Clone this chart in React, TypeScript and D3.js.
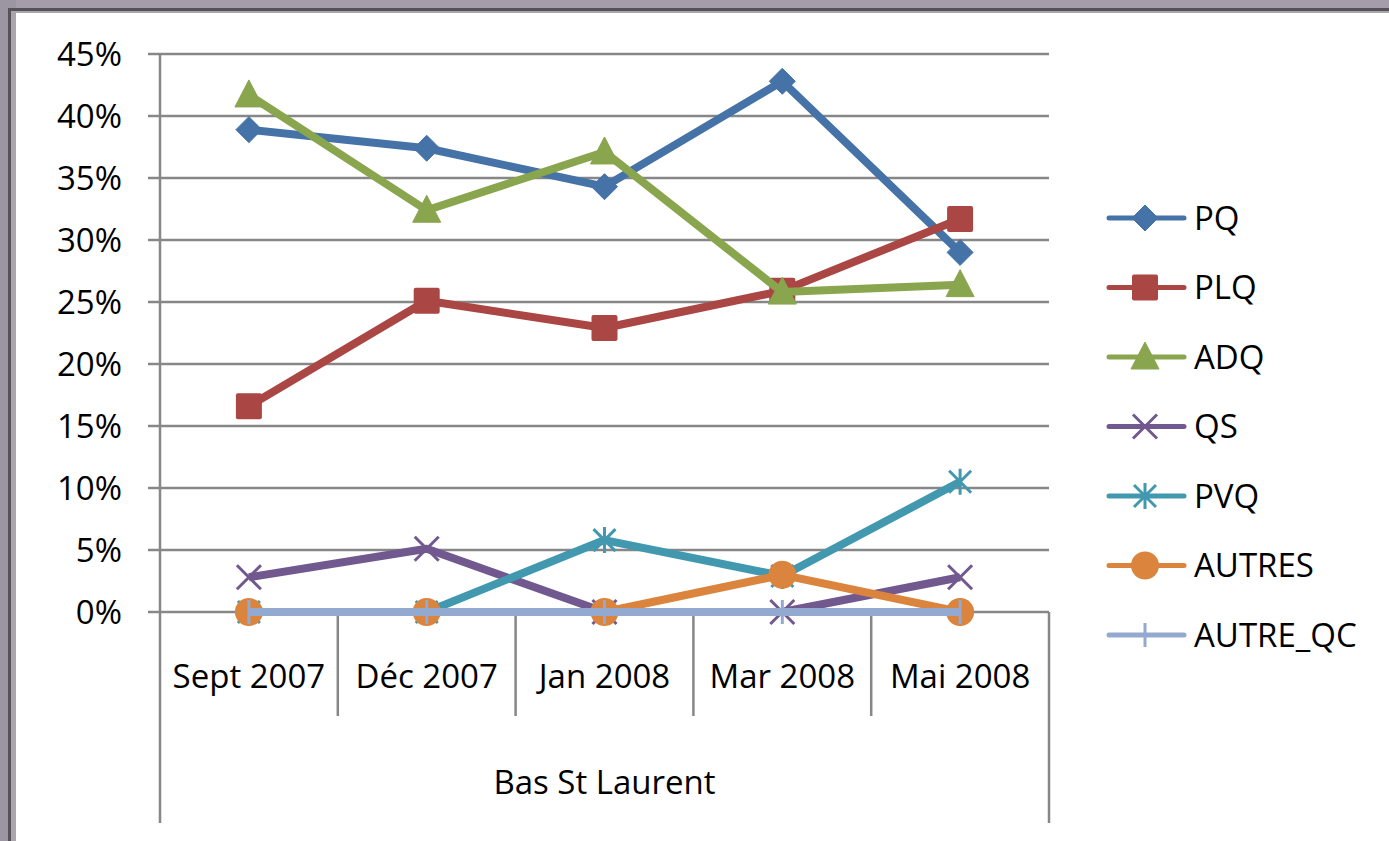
import React, { useEffect, useRef } from "react";
import * as d3 from "d3";

const categories = ["Sept 2007", "Déc 2007", "Jan 2008", "Mar 2008", "Mai 2008"];
const groupLabel = "Bas St Laurent";
const yTicks = [0, 5, 10, 15, 20, 25, 30, 35, 40, 45];

const seriesNames = ["PQ", "PLQ", "ADQ", "QS", "PVQ", "AUTRES", "AUTRE_QC"];
const pq = [38.9, 37.4, 34.3, 42.8, 29.0];
const plq = [16.6, 25.1, 22.9, 25.9, 31.7];
const adq = [41.7, 32.4, 37.1, 25.8, 26.4];
const qs = [2.8, 5.1, 0, 0, 2.8];
const pvq = [0, 0, 5.8, 2.9, 10.5];
const autres = [0, 0, 0, 3.0, 0];
const autreQc = [0, 0, 0, 0, 0];
const colors = ["#4572A7", "#AA4643", "#89A54E", "#71588F", "#4198AF", "#DB843D", "#93A9CF"];
const markers = ["diamond", "square", "triangle", "x", "star", "circle", "plus"];

const W = 1389;
const H = 841;
const FONT = "'Open Sans', sans-serif";
const FS = "33px";

function drawMarker(g: any, type: string, cx: number, cy: number, color: string) {
  if (type === "diamond") {
    g.append("path")
      .attr("d", `M${cx},${cy - 13}L${cx + 13},${cy}L${cx},${cy + 13}L${cx - 13},${cy}Z`)
      .attr("fill", color).attr("stroke", color).attr("stroke-width", 1).attr("stroke-linejoin", "round");
  } else if (type === "square") {
    g.append("rect")
      .attr("x", cx - 13).attr("y", cy - 13).attr("width", 26).attr("height", 26)
      .attr("rx", 2).attr("fill", color);
  } else if (type === "triangle") {
    g.append("path")
      .attr("d", `M${cx},${cy - 15}L${cx + 14},${cy + 12}L${cx - 14},${cy + 12}Z`)
      .attr("fill", color).attr("stroke", color).attr("stroke-linejoin", "round");
  } else if (type === "x") {
    g.append("path")
      .attr("d", `M${cx - 12},${cy - 12}L${cx + 12},${cy + 12}M${cx - 12},${cy + 12}L${cx + 12},${cy - 12}`)
      .attr("stroke", color).attr("stroke-width", 3).attr("fill", "none");
  } else if (type === "star") {
    g.append("path")
      .attr("d", `M${cx - 11},${cy - 11}L${cx + 11},${cy + 11}M${cx - 11},${cy + 11}L${cx + 11},${cy - 11}M${cx},${cy - 13}L${cx},${cy + 13}`)
      .attr("stroke", color).attr("stroke-width", 3).attr("fill", "none");
  } else if (type === "circle") {
    g.append("circle").attr("cx", cx).attr("cy", cy).attr("r", 14).attr("fill", color);
  } else if (type === "plus") {
    g.append("path")
      .attr("d", `M${cx},${cy - 12}L${cx},${cy + 12}`)
      .attr("stroke", color).attr("stroke-width", 3).attr("fill", "none");
  }
}

const App = () => {
  const ref = useRef<SVGSVGElement>(null);

  useEffect(() => {
    const svg = d3.select(ref.current);
    svg.selectAll("*").remove();

    const allSeries = [pq, plq, adq, qs, pvq, autres, autreQc];
    const left = 160, right = 1049, top = 54, bottom = 612;

    // frame
    svg.append("rect").attr("width", W).attr("height", H).attr("fill", "#ffffff");
    svg.append("rect").attr("x", 0).attr("y", 0).attr("width", W).attr("height", 13).attr("fill", "#a59eaa");
    svg.append("rect").attr("x", 0).attr("y", 0).attr("width", 16).attr("height", H).attr("fill", "#9c95a2");
    svg.append("rect").attr("x", 8).attr("y", 8).attr("width", W).attr("height", 3).attr("fill", "#57525a");
    svg.append("rect").attr("x", 8).attr("y", 8).attr("width", 3).attr("height", H).attr("fill", "#57525a");
    svg.append("rect").attr("x", 11).attr("y", 11).attr("width", W).attr("height", 2).attr("fill", "#a9a6ab");
    svg.append("rect").attr("x", 11).attr("y", 11).attr("width", 5).attr("height", H).attr("fill", "#a9a6ab");

    const x = d3.scaleBand().domain(categories).range([left, right]);
    const y = d3.scaleLinear().domain([0, 45]).range([bottom, top]);
    const cx = (c: string) => (x(c) as number) + x.bandwidth() / 2;

    // horizontal gridlines
    svg.append("g")
      .selectAll("line")
      .data(yTicks)
      .join("line")
      .attr("x1", left - 12).attr("x2", right)
      .attr("y1", (d) => y(d)).attr("y2", (d) => y(d))
      .attr("stroke", "#878787").attr("stroke-width", 2.5);

    // y labels
    svg.append("g")
      .selectAll("text")
      .data(yTicks)
      .join("text")
      .attr("x", left - 38).attr("y", (d) => y(d))
      .attr("dy", "0.36em")
      .attr("text-anchor", "end")
      .style("font-family", FONT).style("font-size", FS).style("fill", "#000")
      .text((d) => `${d}%`);

    // axes
    svg.append("line").attr("x1", left).attr("x2", left).attr("y1", top).attr("y2", 823)
      .attr("stroke", "#878787").attr("stroke-width", 2.5);
    svg.append("line").attr("x1", right).attr("x2", right).attr("y1", bottom).attr("y2", 823)
      .attr("stroke", "#878787").attr("stroke-width", 2.5);
    svg.append("g")
      .selectAll("line")
      .data(categories.slice(1))
      .join("line")
      .attr("x1", (d) => x(d) as number).attr("x2", (d) => x(d) as number)
      .attr("y1", bottom).attr("y2", 716)
      .attr("stroke", "#878787").attr("stroke-width", 2.5);

    svg.append("g")
      .selectAll("text")
      .data(categories)
      .join("text")
      .attr("x", (d) => cx(d)).attr("y", 676)
      .attr("dy", "0.36em")
      .attr("text-anchor", "middle")
      .style("font-family", FONT).style("font-size", FS).style("fill", "#000")
      .text((d) => d);

    svg.append("text")
      .attr("x", (left + right) / 2).attr("y", 782).attr("dy", "0.36em")
      .attr("text-anchor", "middle")
      .style("font-family", FONT).style("font-size", FS).style("fill", "#000")
      .text(groupLabel);

    // series
    const line = d3.line<number>()
      .x((_, i) => cx(categories[i]))
      .y((d) => y(d));

    allSeries.forEach((vals, s) => {
      const g = svg.append("g");
      g.append("path")
        .attr("d", line(vals))
        .attr("fill", "none")
        .attr("stroke", colors[s])
        .attr("stroke-width", 8)
        .attr("stroke-linejoin", "round");
      vals.forEach((v, i) => drawMarker(g, markers[s], cx(categories[i]), y(v), colors[s]));
    });

    // legend
    const lg = svg.append("g");
    seriesNames.forEach((name, s) => {
      const ly = 218 + s * 69.5;
      lg.append("line")
        .attr("x1", 1109).attr("x2", 1184).attr("y1", ly).attr("y2", ly)
        .attr("stroke", colors[s]).attr("stroke-width", 5).attr("stroke-linecap", "round");
      drawMarker(lg, markers[s], 1145, ly, colors[s]);
      lg.append("text")
        .attr("x", 1194).attr("y", ly).attr("dy", "0.36em")
        .style("font-family", FONT).style("font-size", FS).style("fill", "#000")
        .text(name);
    });
  }, []);

  return (
    <svg ref={ref} width={W} height={H} style={{ position: "absolute", left: 0, top: 0 }}></svg>
  );
};

export default App;
